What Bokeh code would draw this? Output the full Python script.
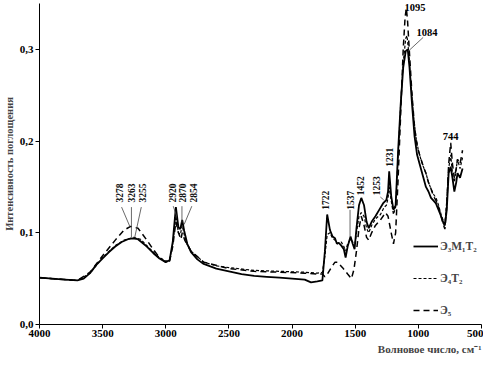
from bokeh.plotting import figure
from bokeh.models import (Range1d, FixedTicker, CustomJSTickFormatter, Legend, LegendItem,
                          Title, LabelSet, ColumnDataSource)
from bokeh.embed import file_html
from bokeh.resources import INLINE

# ---- data: Э3М1Т2 (solid) ----
wn_a = [4000, 3900, 3800, 3700, 3650, 3600, 3550, 3500, 3450, 3400, 3350, 3300, 3263, 3220,
        3150, 3100, 3050, 3000, 2970, 2945, 2920, 2900, 2885, 2870, 2854, 2830, 2800, 2750,
        2700, 2600, 2500, 2400, 2300, 2200, 2100, 2000, 1900, 1850, 1800, 1760, 1740, 1722,
        1700, 1680, 1660, 1645, 1630, 1610, 1590, 1576, 1560, 1537, 1520, 1505, 1490, 1470,
        1452, 1430, 1410, 1393, 1370, 1340, 1310, 1280, 1253, 1240, 1231, 1215, 1197, 1180,
        1160, 1140, 1120, 1100, 1084, 1070, 1050, 1030, 1010, 990, 960, 940, 920, 900, 880,
        861, 840, 820, 800, 790, 775, 760, 744, 730, 715, 700, 690, 670, 650]
ab_a = [0.051, 0.050, 0.049, 0.048, 0.050, 0.056, 0.065, 0.072, 0.079, 0.085, 0.090, 0.093,
        0.094, 0.093, 0.085, 0.078, 0.072, 0.068, 0.070, 0.090, 0.128, 0.106, 0.104, 0.114,
        0.102, 0.088, 0.079, 0.071, 0.066, 0.061, 0.058, 0.055, 0.053, 0.052, 0.051, 0.050,
        0.049, 0.046, 0.047, 0.048, 0.080, 0.120, 0.103, 0.096, 0.094, 0.088, 0.089, 0.086,
        0.082, 0.073, 0.085, 0.096, 0.088, 0.082, 0.105, 0.130, 0.138, 0.130, 0.112, 0.105,
        0.112, 0.118, 0.125, 0.132, 0.136, 0.145, 0.167, 0.140, 0.125, 0.130, 0.190, 0.240,
        0.280, 0.298, 0.300, 0.280, 0.240, 0.205, 0.185, 0.175, 0.160, 0.150, 0.145, 0.138,
        0.135, 0.132, 0.125, 0.118, 0.110, 0.108, 0.125, 0.165, 0.172, 0.160, 0.145, 0.155,
        0.165, 0.160, 0.170]

# ---- data: Э4Т2 (short dash) ----
wn_b = [4000, 3700, 3600, 3500, 3400, 3330, 3255, 3200, 3150, 3100, 3050, 3000, 2970, 2945,
        2920, 2900, 2885, 2870, 2854, 2830, 2800, 2700, 2600, 2500, 2300, 2100, 1900, 1800,
        1760, 1740, 1722, 1700, 1680, 1660, 1640, 1610, 1590, 1576, 1560, 1537, 1520, 1505,
        1490, 1470, 1452, 1430, 1410, 1393, 1370, 1340, 1300, 1270, 1253, 1240, 1231, 1215,
        1197, 1180, 1160, 1140, 1120, 1100, 1090, 1075, 1060, 1040, 1020, 1000, 980, 960, 940,
        920, 900, 880, 860, 840, 820, 800, 790, 775, 760, 744, 730, 715, 700, 690, 670, 650]
ab_b = [0.051, 0.048, 0.056, 0.073, 0.086, 0.092, 0.095, 0.093, 0.086, 0.079, 0.073, 0.069,
        0.071, 0.088, 0.118, 0.100, 0.098, 0.108, 0.098, 0.087, 0.080, 0.068, 0.064, 0.062,
        0.059, 0.058, 0.057, 0.056, 0.057, 0.075, 0.098, 0.100, 0.094, 0.092, 0.088, 0.090,
        0.085, 0.080, 0.088, 0.093, 0.090, 0.085, 0.100, 0.118, 0.122, 0.118, 0.105, 0.100,
        0.108, 0.115, 0.120, 0.128, 0.130, 0.138, 0.150, 0.135, 0.120, 0.128, 0.185, 0.240,
        0.285, 0.312, 0.315, 0.295, 0.265, 0.230, 0.205, 0.190, 0.180, 0.172, 0.165, 0.155,
        0.148, 0.142, 0.138, 0.130, 0.120, 0.112, 0.110, 0.135, 0.170, 0.185, 0.165, 0.155,
        0.170, 0.180, 0.170, 0.182]

# ---- data: Э5 (long dash) ----
wn_c = [4000, 3700, 3600, 3500, 3400, 3330, 3278, 3220, 3150, 3100, 3050, 3000, 2970, 2945,
        2920, 2900, 2880, 2870, 2850, 2800, 2700, 2500, 2300, 2100, 1900, 1800, 1760, 1740,
        1720, 1690, 1660, 1640, 1600, 1560, 1530, 1510, 1490, 1470, 1452, 1430, 1410, 1393,
        1370, 1340, 1300, 1260, 1240, 1215, 1197, 1180, 1160, 1140, 1120, 1105, 1095, 1085,
        1070, 1050, 1030, 1010, 990, 960, 940, 920, 900, 880, 860, 840, 820, 800, 790, 775,
        760, 744, 730, 715, 700, 690, 670, 650]
ab_c = [0.051, 0.048, 0.057, 0.075, 0.092, 0.103, 0.107, 0.105, 0.092, 0.082, 0.073, 0.068,
        0.069, 0.085, 0.112, 0.100, 0.093, 0.100, 0.092, 0.080, 0.068, 0.061, 0.058, 0.057,
        0.056, 0.055, 0.055, 0.052, 0.055, 0.062, 0.068, 0.068, 0.062, 0.055, 0.050, 0.060,
        0.080, 0.105, 0.118, 0.108, 0.095, 0.092, 0.100, 0.108, 0.114, 0.122, 0.118, 0.100,
        0.088, 0.100, 0.160, 0.230, 0.300, 0.335, 0.345, 0.330, 0.295, 0.250, 0.215, 0.195,
        0.185, 0.172, 0.165, 0.155, 0.148, 0.140, 0.135, 0.128, 0.118, 0.108, 0.104, 0.130,
        0.175, 0.198, 0.175, 0.160, 0.170, 0.180, 0.175, 0.190]

series_names = ["Э\u2083М\u2081Т\u2082", "Э\u2084Т\u2082", "Э\u2085"]

x_ticks = [4000, 3500, 3000, 2500, 2000, 1500, 1000, 500]
y_ticks = [0.0, 0.1, 0.2, 0.3]

# peak annotations
vert_labels = ["3278", "3263", "3255", "2920", "2870", "2854", "1722", "1537", "1452", "1253", "1231"]
vert_x = [3366, 3272, 3182, 2947, 2865, 2782, 1732, 1537, 1458, 1330, 1232]
vert_y = [0.133, 0.133, 0.133, 0.133, 0.133, 0.133, 0.125, 0.125, 0.141, 0.141, 0.172]
lead_x0 = [3350, 3272, 3194, 2941, 2872, 2794, 1541, 1301, 962]
lead_y0 = [0.128, 0.128, 0.128, 0.129, 0.129, 0.129, 0.125, 0.139, 0.313]
lead_x1 = [3285, 3272, 3246, 2914, 2872, 2855, 1541, 1275, 1072]
lead_y1 = [0.107, 0.095, 0.095, 0.118, 0.111, 0.109, 0.096, 0.136, 0.299]
horiz_labels = ["1095", "1084", "744"]
horiz_x = [1027, 931, 744]
horiz_y = [0.346, 0.318, 0.205]

SERIF = "Liberation Serif"

p = figure(width=483, height=355, output_backend="svg", toolbar_location=None,
           x_range=Range1d(4000, 500), y_range=Range1d(0, 0.35),
           min_border_left=34, min_border_right=2, min_border_top=3, min_border_bottom=5)
p.outline_line_color = None
p.grid.visible = False
p.background_fill_color = "white"

r1 = p.line(wn_a, ab_a, line_color="black", line_width=1.8)
r2 = p.line(wn_b, ab_b, line_color="black", line_width=1.2, line_dash="3 2")
r3 = p.line(wn_c, ab_c, line_color="black", line_width=1.5, line_dash="6 4")

p.segment(lead_x0, lead_y0, lead_x1, lead_y1, line_color="#444444", line_width=0.8)

src_v = ColumnDataSource(dict(x=vert_x, y=vert_y, t=vert_labels))
p.add_layout(LabelSet(x="x", y="y", text="t", source=src_v, angle=1.5708,
                      text_align="left", text_baseline="middle",
                      text_font="Liberation Sans", text_font_style="bold",
                      text_font_size="9.5px", text_color="#111111"))
src_h = ColumnDataSource(dict(x=horiz_x, y=horiz_y, t=horiz_labels))
p.add_layout(LabelSet(x="x", y="y", text="t", source=src_h,
                      text_align="center", text_baseline="middle",
                      text_font=SERIF, text_font_style="bold", text_font_size="10.5px",
                      text_color="black"))

for ax in (p.xaxis[0], p.yaxis[0]):
    ax.axis_line_color = "black"
    ax.axis_line_width = 1
    ax.major_tick_line_color = "black"
    ax.minor_tick_line_color = None
    ax.major_tick_in = 0
    ax.major_label_text_font = SERIF
    ax.major_label_text_font_style = "bold"
    ax.major_label_text_font_size = "11px"
    ax.major_label_text_color = "black"

p.xaxis.ticker = FixedTicker(ticks=x_ticks)
p.xaxis.major_tick_out = 4
p.xaxis.major_label_standoff = 1
p.yaxis.ticker = FixedTicker(ticks=y_ticks)
p.yaxis.formatter = CustomJSTickFormatter(code="return tick.toFixed(1).replace('.', ',')")
p.yaxis.major_tick_out = 4
p.yaxis.major_label_standoff = 2
p.yaxis.axis_label = "Интенсивность поглощения"
p.yaxis.axis_label_text_font = SERIF
p.yaxis.axis_label_text_font_style = "bold"
p.yaxis.axis_label_text_font_size = "10.5px"
p.yaxis.axis_label_standoff = 2

xt = Title(text="Волновое число, см\u207b\u00b9", align="right", text_font=SERIF,
           text_font_style="bold", text_font_size="11px", standoff=2)
p.add_layout(xt, "below")

legend = Legend(items=[LegendItem(label=series_names[0], renderers=[r1]),
                       LegendItem(label=series_names[1], renderers=[r2]),
                       LegendItem(label=series_names[2], renderers=[r3])],
                location=(374, 4), glyph_width=25, glyph_height=20, label_height=20,
                spacing=12, padding=0, margin=0, label_standoff=2,
                border_line_color=None, background_fill_alpha=0,
                label_text_font=SERIF, label_text_font_style="bold", label_text_font_size="11.5px")
p.add_layout(legend)

open("out.html", "w").write(file_html(p, INLINE))
